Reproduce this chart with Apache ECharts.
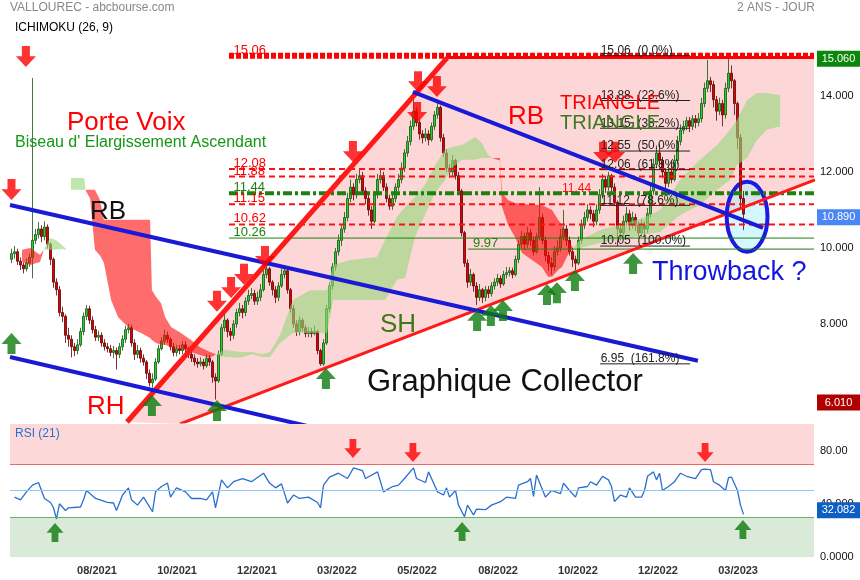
<!DOCTYPE html>
<html><head><meta charset="utf-8">
<script src="https://cdn.jsdelivr.net/npm/echarts@6/dist/echarts.min.js"></script>
<style>html,body{margin:0;padding:0;background:#fff}#c{width:860px;height:580px}</style>
</head><body><div id="c"></div>
<script>
const FONT = '"Liberation Sans", Arial, Helvetica, sans-serif';
const SLOTS = 268;

// ---- daily candles (open / close / high / low) ----
const open = [9.7,9.85,9.9,9.65,9.55,9.45,9.6,9.75,10.2,10.35,
10.5,10.3,10.55,10.1,9.7,9.1,8.9,8.3,8.2,7.7,
7.6,7.4,7.3,7.45,7.8,8.2,8.4,8.1,7.85,7.65,
7.7,7.5,7.4,7.35,7.25,7.3,7.2,7.4,7.6,7.85,
7.9,7.5,7.2,7.3,7.1,7.0,6.7,6.45,6.55,7.0,
7.35,7.55,7.7,7.6,7.4,7.25,7.35,7.3,7.45,7.35,
7.2,7.1,7.0,6.95,7.0,6.9,7.1,7.0,6.6,6.5,
7.2,7.9,8.1,7.8,7.7,8.0,8.3,8.4,8.3,8.6,
8.75,8.8,8.6,8.7,8.9,9.3,9.45,9.1,8.9,8.7,
9.0,9.3,9.4,8.9,8.4,8.0,7.8,8.1,7.9,7.75,
7.8,7.75,7.8,7.3,6.95,7.5,8.4,9.0,9.5,9.9,
10.2,10.5,10.8,11.3,11.6,11.4,11.8,11.9,11.5,11.3,
11.0,10.7,11.4,11.8,11.9,11.6,11.3,11.1,11.3,11.6,
11.8,12.1,12.5,12.8,13.2,13.6,13.3,13.0,12.9,13.0,
12.85,13.2,13.5,13.7,12.9,12.5,12.1,12.0,12.3,11.9,
11.5,10.4,9.6,9.1,9.3,9.0,8.7,8.9,8.7,8.9,
8.8,9.0,9.1,9.2,9.05,9.3,9.35,9.4,9.3,9.7,
10.1,10.3,10.1,10.4,10.2,9.9,10.3,10.8,10.2,9.8,
9.6,9.5,9.9,10.0,10.3,10.5,10.2,9.9,9.7,9.6,
10.2,10.6,10.8,11.0,10.9,10.7,11.0,11.4,11.8,11.6,
11.9,11.6,11.2,10.5,10.4,10.7,10.9,10.6,10.8,10.6,
10.4,10.6,10.5,10.9,11.5,12.2,12.5,12.3,12.0,11.7,
12.0,11.8,12.3,12.8,13.1,13.2,13.35,13.2,13.4,13.3,
13.4,13.8,14.2,14.4,14.3,13.9,13.6,13.8,13.5,14.2,
14.6,14.4,13.8,12.9,11.3];
const close = [9.85,9.9,9.65,9.55,9.45,9.6,9.75,10.2,10.35,10.5,
10.3,10.55,10.1,9.7,9.1,8.9,8.3,8.2,7.7,7.6,
7.4,7.3,7.45,7.8,8.2,8.4,8.1,7.85,7.65,7.7,
7.5,7.4,7.35,7.25,7.3,7.2,7.4,7.6,7.85,7.9,
7.5,7.2,7.3,7.1,7.0,6.7,6.45,6.55,7.0,7.35,
7.55,7.7,7.6,7.4,7.25,7.35,7.3,7.45,7.35,7.2,
7.1,7.0,6.95,7.0,6.9,7.1,7.0,6.6,6.5,7.2,
7.9,8.1,7.8,7.7,8.0,8.3,8.4,8.3,8.6,8.75,
8.8,8.6,8.7,8.9,9.3,9.45,9.1,8.9,8.7,9.0,
9.3,9.4,8.9,8.4,8.0,7.8,8.1,7.9,7.75,7.8,
7.75,7.8,7.3,6.95,7.5,8.4,9.0,9.5,9.9,10.2,
10.5,10.8,11.3,11.6,11.4,11.8,11.9,11.5,11.3,11.0,
10.7,11.4,11.8,11.9,11.6,11.3,11.1,11.3,11.6,11.8,
12.1,12.5,12.8,13.2,13.6,13.3,13.0,12.9,13.0,12.85,
13.2,13.5,13.7,12.9,12.5,12.1,12.0,12.3,11.9,11.5,
10.4,9.6,9.1,9.3,9.0,8.7,8.9,8.7,8.9,8.8,
9.0,9.1,9.2,9.05,9.3,9.35,9.4,9.3,9.7,10.1,
10.3,10.1,10.4,10.2,9.9,10.3,10.8,10.2,9.8,9.6,
9.5,9.9,10.0,10.3,10.5,10.2,9.9,9.7,9.6,10.2,
10.6,10.8,11.0,10.9,10.7,11.0,11.4,11.8,11.6,11.9,
11.6,11.2,10.5,10.4,10.7,10.9,10.6,10.8,10.6,10.4,
10.6,10.5,10.9,11.5,12.2,12.5,12.3,12.0,11.7,12.0,
11.8,12.3,12.8,13.1,13.2,13.35,13.2,13.4,13.3,13.4,
13.8,14.2,14.4,14.3,13.9,13.6,13.8,13.5,14.2,14.6,
14.4,13.8,12.9,11.3,10.89];
const high = [9.98,10.05,9.98,9.75,9.62,9.72,9.85,14.47,10.5,10.68,
10.6,10.7,10.62,10.15,9.75,9.2,9.0,8.45,8.25,7.9,
7.7,7.5,7.6,7.9,8.3,8.5,8.48,8.2,7.95,7.82,
7.78,7.6,7.5,7.45,7.42,7.38,7.5,7.7,7.95,8.0,
7.98,7.6,7.45,7.38,7.2,7.05,6.8,6.7,7.1,7.45,
7.65,7.85,7.8,7.65,7.5,7.45,7.45,7.55,7.55,7.4,
7.3,7.2,7.1,7.12,7.08,7.2,7.18,7.05,6.7,7.3,
8.0,8.3,8.15,7.9,8.1,8.4,8.55,8.5,8.7,8.9,
8.95,8.9,8.85,9.05,9.42,9.55,9.5,9.15,9.0,9.1,
9.45,9.5,9.45,8.95,8.5,8.1,8.2,8.15,7.98,7.92,
7.9,7.95,7.85,7.35,7.6,8.5,9.1,9.6,10.0,10.35,
10.6,10.95,11.45,11.8,11.7,11.95,12.1,12.0,11.6,11.4,
11.1,11.5,11.95,12.1,12.0,11.7,11.4,11.45,11.7,11.95,
12.25,12.6,12.95,13.35,13.97,13.7,13.4,13.1,13.15,13.1,
13.3,13.6,13.85,13.75,13.0,12.6,12.2,12.45,12.35,12.0,
11.55,10.45,9.7,9.45,9.35,9.1,9.05,8.95,9.0,9.0,
9.1,9.2,9.32,9.28,9.4,9.5,9.5,9.48,9.8,10.2,
10.45,10.4,10.55,10.5,10.3,10.4,11.6,10.9,10.3,9.9,
9.75,10.05,10.2,10.5,11.0,10.6,10.3,10.0,9.8,10.3,
10.75,10.95,11.15,11.1,11.0,11.15,11.55,11.95,11.9,12.0,
11.95,11.7,11.25,10.65,10.85,11.08,11.0,10.95,10.9,10.7,
10.75,10.7,11.05,11.65,12.35,12.7,12.75,12.4,12.1,12.2,
12.3,12.45,12.95,13.25,13.35,13.45,13.45,13.5,13.5,13.55,
13.95,14.35,14.95,14.5,14.4,14.0,13.95,13.9,14.35,15.06,
14.8,14.45,13.85,13.0,11.5];
const low = [9.6,9.72,9.55,9.42,9.33,9.38,9.5,9.2,10.1,10.25,
10.15,10.2,9.98,9.55,8.95,8.75,8.2,8.05,7.5,7.4,
7.12,7.15,7.2,7.4,7.7,8.1,8.0,7.75,7.55,7.55,
7.4,7.3,7.25,7.15,7.1,6.8,7.1,7.3,7.5,7.75,
7.4,7.05,7.1,6.98,6.9,6.55,6.35,6.32,6.5,6.95,
7.3,7.45,7.5,7.3,7.15,7.15,7.2,7.2,7.25,7.1,
7.0,6.9,6.85,6.88,6.8,6.85,6.9,6.45,6.01,6.45,
7.15,7.8,7.65,7.55,7.6,7.9,8.2,8.15,8.2,8.5,
8.65,8.5,8.5,8.6,8.85,9.2,9.0,8.75,8.55,8.6,
8.95,9.2,8.8,8.3,7.9,7.68,7.7,7.8,7.65,7.65,
7.65,7.7,7.2,6.9,6.9,7.45,8.3,8.9,9.4,9.8,
10.05,10.4,10.7,11.2,11.25,11.3,11.7,11.4,11.15,10.85,
10.5,10.65,11.3,11.7,11.5,11.2,11.0,11.0,11.2,11.5,
11.7,12.0,12.4,12.7,13.1,13.2,12.85,12.75,12.8,12.7,
12.8,13.1,13.4,12.8,12.4,12.0,11.85,11.9,11.8,11.4,
10.3,9.5,8.95,9.0,8.85,8.5,8.6,8.55,8.6,8.68,
8.72,8.9,9.0,8.95,9.0,9.2,9.25,9.2,9.25,9.6,
10.0,9.95,10.0,10.05,9.8,9.85,10.2,10.1,9.65,9.4,
9.3,9.4,9.8,9.9,10.2,10.05,9.8,9.5,9.42,9.55,
10.1,10.5,10.7,10.75,10.55,10.6,10.9,11.3,11.45,11.5,
11.45,11.1,10.05,10.2,10.3,10.6,10.45,10.5,10.45,10.3,
10.3,10.3,10.4,10.8,11.4,12.1,12.2,11.85,11.5,11.6,
11.7,11.75,12.2,12.7,13.0,13.1,13.05,13.1,13.15,13.2,
13.3,13.7,14.1,14.1,13.7,13.35,13.5,13.2,13.4,14.1,
14.2,13.5,12.6,11.0,10.47];

// ---- RSI (21) readings (candle index / value) ----
const rsiIdx = [1,3,5,7,9,11,13,14,15,16,
18,19,23,24,25,28,32,34,35,37,
39,40,42,44,47,48,50,52,53,55,
58,60,63,65,67,68,70,72,74,77,
80,84,86,88,90,92,94,96,99,102,
103,104,106,109,112,114,117,118,122,123,
124,127,129,131,134,135,138,139,142,144,
145,146,148,149,151,152,154,155,158,160,
163,165,168,169,172,173,174,175,178,180,
183,184,186,188,189,192,193,195,197,199,
200,201,203,205,206,208,210,211,212,214,
215,216,217,219,221,223,225,228,230,231,
233,234,236,238,239,240,242,243,244];
const rsiVal = [45,43,49,54,56,44,41,37,28.6,40,
35,37,37.6,43,50,44,41,40.6,35,46.6,
52,43,39,45,34,49,53,55.6,45,52,
49,44,44,43,49,37,58,52,56.6,59,
56.6,63,55.6,52,55,40.6,46.6,44,45,41,
37,54,60,63,59,67,65,59,64,56.6,
49,53,54,59,67,59,56,64,49,46.6,
52,45,50,39,30.3,39,31.6,36,35.6,39,
41.6,45,44,54,56.6,59,45.6,61.6,45,50,
47.6,55.6,50,45,52,53,56.6,54,60.7,58,
53,41.6,46.6,45,52,45,45,50,60.7,64,
58,63,50,53,56.6,63,60.7,59,65.7,66,
65.7,56.6,54,50,59.6,60,50,39,32.082];

// ---- Ichimoku cloud (span A / span B) ----
const kumoIdx = [3.5,6.2,9.5,10.8,12.8,14.8,16.8,18.2,19,19.8,
24.2,24.8,26.2,27.8,29.5,30.8,33.2,35.5,38.8,43.2,
46.2,46.8,48.2,49.8,51.2,53.2,56.5,59.8,62.8,66.2,
68.2,71.2,76.2,80.2,83.5,86.2,89.5,93.8,99.5,105.2,
107.2,112.8,121.8,124.5,128.5,131.2,134.5,137.8,141.2,144.5,
147.2,150.2,154.5,156.8,158.8,160.2,162.8,163.5,165.5,167.8,
170.2,173.5,176.8,178.8,180.2,182.2,183.5,185.5,187.2,189.5,
196.2,202.8,210.5,216.2,222.8,229.5,235.2,239.5,241.8,245.2,
248.5,251.8,255.2,256.2];
const spanA = [9.63,9.55,9.63,9.95,10.26,10.21,10.08,9.97,null,11.84,
11.84,11.5,11.3,9.95,9.8,9.61,8.63,8.18,7.92,7.76,
7.63,7.58,7.5,7.45,7.45,7.39,7.34,7.26,7.18,7.11,
7.2,7.32,7.26,7.26,7.2,7.26,7.71,8.63,8.89,8.89,
9.55,9.68,9.76,10.21,10.82,11.08,11.34,11.66,12.18,12.58,
12.66,12.71,12.92,12.76,12.45,12.37,12.3,11.08,10.61,10.29,
9.87,9.68,9.5,9.24,9.24,9.42,9.5,9.82,10.0,10.21,
10.47,10.61,10.79,11.0,11.79,12.32,12.71,13.11,13.37,13.89,
14.08,14.08,14.03,14.03];
const spanB = [9.95,10.0,9.82,9.95,9.95,9.95,9.97,9.95,null,11.53,
11.53,11.53,11.53,11.53,11.26,10.74,10.74,10.74,10.74,10.74,
10.74,8.89,8.71,8.55,8.18,7.92,7.76,7.58,7.39,7.26,
7.2,7.13,7.11,7.2,7.13,7.13,7.5,7.76,7.76,7.76,
8.63,8.63,8.63,8.63,9.16,9.21,10.29,10.87,11.45,11.79,
12.13,12.32,12.32,12.37,12.37,12.37,12.37,11.45,11.26,11.18,
11.16,11.13,11.13,11.05,11.0,10.74,10.61,10.21,10.0,10.0,
10.13,10.21,10.34,10.42,10.87,11.13,11.53,11.79,12.18,12.37,
12.84,13.11,13.18,13.18];

// ---- horizontal levels ----
const levelRedDash = [12.08, 11.88, 11.15, 10.62];
const levelTop = 15.06;
const levelGreenDash = 11.44;
const levelGreen = 10.26;
const levelGreen2 = 9.97;
const fibVals = [15.06, 13.88, 13.15, 12.55, 12.06, 11.12, 10.05, 6.95];
const fibPct = ['0.0%', '23.6%', '38.2%', '50.0%', '61.8%', '78.6%', '100.0%', '161.8%'];

// ---- time axis ticks ----
const tickPos = [28.5, 55.2, 81.8, 108.5, 135.2, 162.2, 188.8, 215.5, 242.2];
const tickLabels = ['08/2021', '10/2021', '12/2021', '03/2022', '05/2022', '08/2022', '10/2022', '12/2022', '03/2023'];

// ---- signals ----
const sellIdx = [4.8, 0, 68.5, 73.2, 77.5, 84.5, 113.8, 135.5, 135.2, 141.8, 197.2, 201.2];
const sellPx = [14.76, 11.26, 8.32, 8.68, 9.03, 9.5, 12.26, 14.1, 13.29, 13.97, 12.24, 12.24];
const buyIdx = [0, 46.8, 68.5, 104.8, 155.2, 159.8, 163.8, 178.5, 181.8, 187.8, 207.2];
const buyPx = [7.76, 6.13, 6.0, 6.84, 8.37, 8.5, 8.63, 9.05, 9.1, 9.42, 9.87];
const rsiSellIdx = [113.8, 133.8, 231.2], rsiSellVal = [74.4, 71.4, 71.4];
const rsiBuyIdx = [14.5, 150.2, 243.8], rsiBuyVal = [25.6, 26.3, 27.8];

// ---- drawn trend lines [index, price] ----
const rbUpper = [[-0.5, 11.13], [228.8, 7.03]];
const rhLower = [[-0.5, 7.13], [100, 5.29]];
const triTop = [[133.8, 14.105], [250.5, 10.526]];
const redThick = [[38.5, 5.42], [145.2, 15.0]];
const redThin = [[56.2, 5.37], [267.8, 11.79]];
const throwback = {center: [245.2, 10.82], rx: 6.8, ry: 0.92};

// ---------------------------------------------------------------
const cats = Array.from({length: SLOTS}, (_, i) => String(i));
const candleData = open.map((o, i) => [o, close[i], low[i], high[i]]);
const xEnd = SLOTS - 0.5;
function xAtY(l, y) { return l[0][0] + (y - l[0][1]) / (l[1][1] - l[0][1]) * (l[1][0] - l[0][0]); }
function yAtX(l, x) { return l[0][1] + (x - l[0][0]) / (l[1][0] - l[0][0]) * (l[1][1] - l[0][1]); }
const zonePoly = [redThick[0], [xAtY(redThick, levelTop), levelTop], [xEnd, levelTop], [xEnd, yAtX(redThin, xEnd)], redThin[0]];

function txtStyle(text, fill, font, align, va) {
  return {text, fill, font, align: align || 'left', verticalAlign: va || 'middle', textAlign: align || 'left', textVerticalAlign: va || 'middle'};
}
function hline(p, x0, x1, lineStyle, z) {
  return {type: 'line', xAxisIndex: 1, yAxisIndex: 0, data: [[x0, p], [x1, p]], symbol: 'none', silent: true, z, lineStyle, animation: false};
}
function seg(pts, color, width, z) {
  return {type: 'line', xAxisIndex: 1, yAxisIndex: 0, data: pts, symbol: 'none', silent: true, z, lineStyle: {color, width, cap: 'butt'}};
}
const DOWN = 'path://M30,0 L70,0 L70,48 L100,48 L50,100 L0,48 L30,48 Z';
const UP = 'path://M30,100 L70,100 L70,52 L100,52 L50,0 L0,52 L30,52 Z';

const levelStart = 72.5;
const series = [];

// pink triangle zone
series.push({type: 'custom', xAxisIndex: 1, yAxisIndex: 0, z: 1, silent: true, data: [[0, 10]],
  renderItem: (p, api) => ({type: 'polygon', shape: {points: zonePoly.map(q => api.coord(q))}, style: {fill: '#fdd7d7'}})});

// throwback ellipse
series.push({type: 'custom', xAxisIndex: 1, yAxisIndex: 0, z: 2, silent: true, data: [throwback.center],
  renderItem: (p, api) => {
    const c = api.coord(throwback.center);
    const e = api.coord([throwback.center[0] + throwback.rx, throwback.center[1] + throwback.ry]);
    return {type: 'ellipse', shape: {cx: c[0], cy: c[1], rx: Math.abs(e[0] - c[0]), ry: Math.abs(c[1] - e[1])},
      style: {fill: 'rgba(170,238,255,0.5)', stroke: '#1a1ae0', lineWidth: 4}};
  }});

// candles
series.push({type: 'candlestick', xAxisIndex: 0, yAxisIndex: 0, z: 3, data: candleData, barWidth: 2, silent: true,
  itemStyle: {color: '#2ad02a', color0: '#e00000', borderColor: '#145214', borderColor0: '#5a0000', borderWidth: 0.8}});

// ichimoku cloud (grouped by colour runs)
series.push({type: 'custom', xAxisIndex: 1, yAxisIndex: 0, z: 4, silent: true, data: [[0, 10]],
  renderItem: (p, api) => {
    const children = [];
    let run = null;
    const flush = () => { if (run && run.pts.length > 1) {
      const top = run.pts.map(k => api.coord([kumoIdx[k], spanA[k]]));
      const bot = run.pts.slice().reverse().map(k => api.coord([kumoIdx[k], spanB[k]]));
      children.push({type: 'polygon', shape: {points: top.concat(bot)}, style: {fill: run.bull ? 'rgba(150,214,122,0.62)' : 'rgba(255,10,10,0.6)'}});
    } run = null; };
    for (let j = 0; j < kumoIdx.length - 1; j++) {
      if (spanA[j] == null || spanA[j + 1] == null) { flush(); continue; }
      const bull = (spanA[j] + spanA[j + 1]) >= (spanB[j] + spanB[j + 1]);
      if (!run || run.bull !== bull) { flush(); run = {bull, pts: [j]}; }
      run.pts.push(j + 1);
    }
    flush();
    return {type: 'group', children};
  }});

// horizontal levels
series.push(hline(levelTop, levelStart, xEnd, {color: '#ff0000', width: 6, type: [5, 2]}, 5));
series.push(hline(levelTop - 0.05, xAtY(redThick, levelTop), xEnd, {color: '#ff0000', width: 3}, 5));
levelRedDash.forEach(v => series.push(hline(v, levelStart, xEnd, {color: '#ff1010', width: 2, type: [6, 4]}, 5)));
series.push(hline(levelGreenDash, levelStart, xEnd, {color: '#1f7f0f', width: 4, type: [9, 3, 3, 3]}, 5));
series.push(hline(levelGreen, levelStart, xEnd, {color: '#1f7f0f', width: 1}, 5));
series.push(hline(levelGreen2, 152.2, xEnd, {color: '#1f7f0f', width: 1}, 5));
fibVals.forEach(v => series.push(hline(v, 196.2, 226.2, {color: '#222', width: 1}, 5)));

// trend lines
series.push(seg(redThin, '#ff1a1a', 3, 6));
series.push(seg(redThick, '#ff1a1a', 5, 6));
series.push(seg(rbUpper, '#1a1ad6', 4, 6));
series.push(seg(rhLower, '#1a1ad6', 4, 6));
series.push(seg(triTop, '#1a1ad6', 4, 6));

// signal arrows
series.push({type: 'scatter', xAxisIndex: 1, yAxisIndex: 0, z: 7, silent: true, symbol: DOWN, symbolSize: [20, 21], symbolOffset: [0, -10.5],
  itemStyle: {color: '#ff0000'}, data: sellIdx.map((x, k) => [x, sellPx[k]])});
series.push({type: 'scatter', xAxisIndex: 1, yAxisIndex: 0, z: 7, silent: true, symbol: UP, symbolSize: [20, 21], symbolOffset: [0, 10.5],
  itemStyle: {color: '#0d7a0d'}, data: buyIdx.map((x, k) => [x, buyPx[k]])});

// level & fibonacci labels
const labelItems = [];
[[levelTop, '#ff0000'], [12.08, '#ff0000'], [11.88, '#ff0000'], [levelGreenDash, '#1f7f0f'], [11.15, '#ff0000'], [10.62, '#ff0000'], [levelGreen, '#1f7f0f']]
  .forEach(([v, c]) => labelItems.push({x: 74, y: v, text: v.toFixed(2), color: c, size: 13}));
labelItems.push({x: 153.8, y: levelGreen2, text: levelGreen2.toFixed(2), color: '#1f7f0f', size: 13});
labelItems.push({x: 183.5, y: levelGreenDash, text: levelGreenDash.toFixed(2), color: '#ff1010', size: 12});
fibVals.forEach((v, k) => labelItems.push({x: 196.4, y: v, text: v.toFixed(2) + '  (' + fibPct[k] + ')', color: '#222', size: 12}));
series.push({type: 'custom', xAxisIndex: 1, yAxisIndex: 0, z: 8, silent: true, data: labelItems.map(o => [o.x, o.y]),
  renderItem: (p, api) => {
    const o = labelItems[p.dataIndex];
    const c = api.coord([o.x, o.y]);
    return {type: 'text', x: c[0], y: c[1] + 1, style: txtStyle(o.text, o.color, o.size + 'px ' + FONT, 'left', 'bottom')};
  }});

// RSI panel
series.push({type: 'line', xAxisIndex: 2, yAxisIndex: 1, z: 3, silent: true, data: rsiIdx.map((x, k) => [x, rsiVal[k]]),
  symbol: 'none', lineStyle: {color: '#2a6fcf', width: 1.3},
  markArea: {silent: true, data: [[{yAxis: 70, itemStyle: {color: '#fdd8d8'}}, {yAxis: 100}], [{yAxis: 0, itemStyle: {color: '#d9ebd8'}}, {yAxis: 30}]]},
  markLine: {silent: true, symbol: 'none', label: {show: false}, animation: false,
    data: [{yAxis: 70, lineStyle: {color: '#e86a6a', width: 1, type: 'solid'}}, {yAxis: 50, lineStyle: {color: '#8ec6f4', width: 1, type: 'solid'}}, {yAxis: 30, lineStyle: {color: '#6aaf6a', width: 1, type: 'solid'}}]}});
series.push({type: 'scatter', xAxisIndex: 2, yAxisIndex: 1, z: 7, silent: true, symbol: DOWN, symbolSize: [17, 19], symbolOffset: [0, -9.5],
  itemStyle: {color: '#ff0000'}, data: rsiSellIdx.map((x, k) => [x, rsiSellVal[k]])});
series.push({type: 'scatter', xAxisIndex: 2, yAxisIndex: 1, z: 7, silent: true, symbol: UP, symbolSize: [17, 19], symbolOffset: [0, 9.5],
  itemStyle: {color: '#0d7a0d'}, data: rsiBuyIdx.map((x, k) => [x, rsiBuyVal[k]])});

const rsiLabelText = {0: '0.0000', 40: '40.000', 80: '80.00'};
const option = {
  animation: false,
  backgroundColor: '#ffffff',
  textStyle: {fontFamily: FONT},
  grid: [{left: 10, right: 46, top: 15, height: 407}, {left: 10, right: 46, top: 424, height: 133}],
  xAxis: [
    {type: 'category', data: cats, gridIndex: 0, show: false, boundaryGap: true},
    {type: 'value', gridIndex: 0, min: -0.5, max: xEnd, show: false},
    {type: 'value', gridIndex: 1, min: -0.5, max: xEnd, axisLine: {show: false}, axisTick: {show: false}, splitLine: {show: false},
      axisLabel: {customValues: tickPos, margin: 8, fontSize: 11, fontWeight: 'bold', color: '#333',
        formatter: v => { let b = 0; tickPos.forEach((t, k) => { if (Math.abs(t - v) < Math.abs(tickPos[b] - v)) b = k; }); return tickLabels[b]; }}}
  ],
  yAxis: [
    {type: 'value', gridIndex: 0, min: 5.42, max: 16.13, position: 'right', axisLine: {show: false}, axisTick: {show: false}, splitLine: {show: false},
      axisLabel: {customValues: [8, 10, 12, 14], margin: 6, fontSize: 11, color: '#111', formatter: v => v.toFixed(3)}},
    {type: 'value', gridIndex: 1, min: 0, max: 100, position: 'right', axisLine: {show: false}, axisTick: {show: false}, splitLine: {show: false},
      axisLabel: {customValues: [0, 40, 80], margin: 6, fontSize: 11, color: '#111', formatter: v => rsiLabelText[v] || String(v)}}
  ],
  series
};

const chart = echarts.init(document.getElementById('c'), null, {renderer: 'canvas', width: 860, height: 580});
chart.setOption(option);

const yPx = v => chart.convertToPixel({yAxisIndex: 0}, v);
const rPx = v => chart.convertToPixel({yAxisIndex: 1}, v);
function box(yc, txt, fill) {
  return [{type: 'rect', z: 100, shape: {x: 817, y: yc - 8, width: 43, height: 16}, style: {fill}},
    {type: 'text', z: 101, x: 838.5, y: yc, style: txtStyle(txt, '#fff', '11px ' + FONT, 'center', 'middle')}];
}
const maxHigh = Math.max(...high), minLow = Math.min(...low), last = close[close.length - 1], lastRsi = rsiVal[rsiVal.length - 1];
function t(x, y, text, fill, size, align) { return {type: 'text', z: 90, x, y, style: txtStyle(text, fill, size + 'px ' + FONT, align || 'left', 'middle')}; }
const graphics = [
  t(10, 8, 'VALLOUREC - abcbourse.com', '#888', 12),
  t(815, 8, '2 ANS - JOUR', '#888', 12, 'right'),
  t(15, 28, 'ICHIMOKU (26, 9)', '#000', 12),
  t(67, 123, 'Porte Voix', '#ff0000', 26),
  t(15, 143, "Biseau d' Elargissement Ascendant", '#169616', 16),
  t(90, 212, 'RB', '#111', 26),
  t(87, 407, 'RH', '#ff0000', 26),
  t(508, 117, 'RB', '#ff0000', 26),
  t(560, 103, 'TRIANGLE', '#ff0000', 20),
  t(560, 123, 'TRIANGLE', '#3a7a1a', 20),
  t(380, 325, 'SH', '#3a7a1a', 26),
  t(367, 382, 'Graphique Collector', '#111', 31),
  t(652, 273, 'Throwback ?', '#1515e0', 27),
  t(15, 434, 'RSI (21)', '#2a6fcf', 12),
  ...box(yPx(maxHigh) + 3, maxHigh.toFixed(3), '#0b870b'),
  ...box(yPx(last) + 3, last.toFixed(3), '#4a86f5'),
  ...box(yPx(minLow) + 3, minLow.toFixed(3), '#b00000'),
  ...box(rPx(lastRsi) - 4, lastRsi.toFixed(3), '#0d5fc4')
];
chart.setOption({graphic: graphics});
</script>
</body></html>
